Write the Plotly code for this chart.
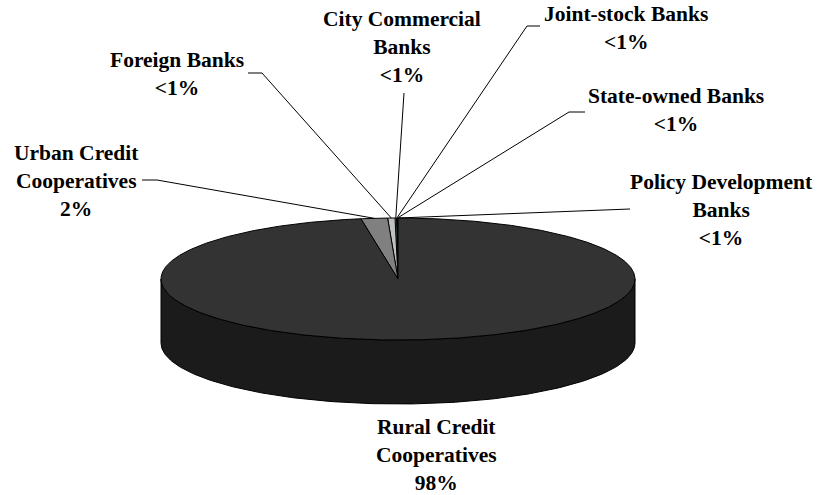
import numpy as np
import plotly.graph_objects as go

# Share of institutions by type (percent), listed counter-clockwise from 12 o'clock
categories = [
    "Policy Development Banks",
    "State-owned Banks",
    "Joint-stock Banks",
    "City Commercial Banks",
    "Foreign Banks",
    "Urban Credit Cooperatives",
    "Rural Credit Cooperatives",
]
shares = [0.02, 0.03, 0.05, 0.10, 0.50, 1.80, 97.50]
label_lines = [
    ["Policy Development", "Banks"],
    ["State-owned Banks"],
    ["Joint-stock Banks"],
    ["City Commercial", "Banks"],
    ["Foreign Banks"],
    ["Urban Credit", "Cooperatives"],
    ["Rural Credit", "Cooperatives"],
]

# Styling
top_colors = ["#000000", "#ffffff", "#e0e0e0", "#b8f4f4", "#c0c0c0", "#808080", "#333333"]
side_colors = ["#000000", "#d0d0d0", "#b0b0b0", "#80c0c0", "#a0a0a0", "#606060", "#1b1b1b"]
FONT = "Liberation Serif"

# Pie geometry in page pixels
W, H = 824, 495
CX, CY, RX, RY, DEPTH = 398.0, 279.0, 237.0, 61.0, 64.0

# Label block centres and leader line start points (label side)
label_pos = [(721, 210), (676, 110), (626, 28), (402, 47), (177, 74), (76, 181), (436, 455)]
leader_start = [
    [(630, 209)],
    [(585, 112), (569, 112)],
    [(540, 26), (527, 26)],
    [(404, 93)],
    [(248, 73), (262, 73)],
    [(142, 180), (157, 180)],
    None,
]


def pt(phi_deg, dy=0.0):
    p = np.radians(phi_deg)
    return CX + RX * np.sin(p), CY - RY * np.cos(p) + dy


fig = go.Figure()

total = sum(shares)
cum = np.concatenate([[0], np.cumsum(shares)]) / total * 360.0
# slice i spans phi (clockwise angle from top) over [lo, hi]
spans = []
for i in range(len(shares)):
    lo = (-cum[i + 1]) % 360.0
    hi = lo + (cum[i + 1] - cum[i])
    spans.append((lo, hi))

# Side walls (front half only: phi between 90 and 270)
for i, (lo, hi) in enumerate(spans):
    for k in (-1, 0, 1):
        a = max(lo, 90 + 360 * k)
        b = min(hi, 270 + 360 * k)
        if b <= a:
            continue
        ph = np.linspace(a, b, 200)
        xs_t, ys_t = pt(ph)
        xs_b, ys_b = pt(ph[::-1], DEPTH)
        xs = np.concatenate([xs_t, xs_b, xs_t[:1]])
        ys = np.concatenate([ys_t, ys_b, ys_t[:1]])
        fig.add_trace(go.Scatter(
            x=xs, y=ys, mode="lines", fill="toself",
            fillcolor=side_colors[i], line=dict(color="black", width=1),
            hoverinfo="skip", showlegend=False,
        ))

# Top faces
for i, (lo, hi) in enumerate(spans):
    ph = np.linspace(lo, hi, max(3, int((hi - lo) * 3)))
    xs, ys = pt(ph)
    xs = np.concatenate([[CX], xs, [CX]])
    ys = np.concatenate([[CY], ys, [CY]])
    fig.add_trace(go.Scatter(
        x=xs, y=ys, mode="lines", fill="toself",
        fillcolor=top_colors[i], line=dict(color="black", width=1),
        hoverinfo="skip", showlegend=False,
    ))

# Leader lines and labels
for i, name in enumerate(categories):
    pct = shares[i] / total * 100
    pct_txt = f"{pct:.0f}%" if pct >= 1 else "&lt;1%"
    txt = "<br>".join(label_lines[i] + [pct_txt])
    lx, ly = label_pos[i]
    fig.add_annotation(
        x=lx, y=ly, text=f"<b>{txt}</b>", showarrow=False,
        xanchor="center", yanchor="middle", align="center",
        font=dict(family=FONT, size=21.5, color="black"),
    )
    if leader_start[i] is not None:
        mid = (spans[i][0] + spans[i][1]) / 2
        ex, ey = pt(mid)
        xs = [p[0] for p in leader_start[i]] + [ex]
        ys = [p[1] for p in leader_start[i]] + [ey]
        fig.add_trace(go.Scatter(
            x=xs, y=ys, mode="lines", line=dict(color="black", width=1),
            hoverinfo="skip", showlegend=False,
        ))

fig.update_layout(
    width=W, height=H,
    margin=dict(l=0, r=0, t=0, b=0, pad=0),
    paper_bgcolor="white", plot_bgcolor="white",
    font=dict(family=FONT),
    xaxis=dict(range=[0, W], visible=False, fixedrange=True),
    yaxis=dict(range=[H, 0], visible=False, fixedrange=True),
    showlegend=False,
)

fig.write_html("out.html")
